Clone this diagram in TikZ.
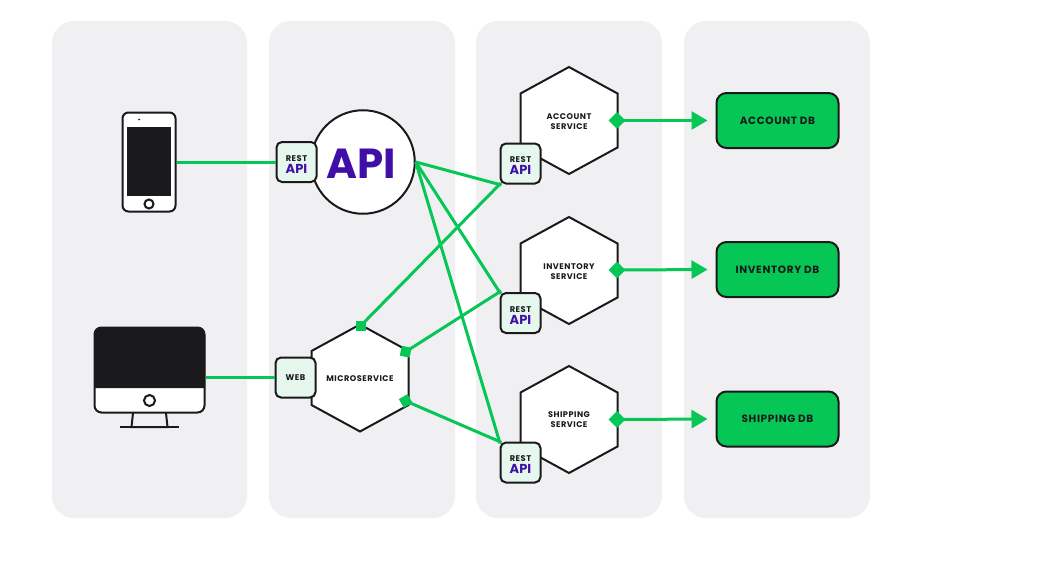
\documentclass[tikz,border=0pt]{standalone}
\usepackage{fontspec}
\setmainfont{Poppins}
\newfontfamily\tagfont[LetterSpace=6]{Poppins}
\usetikzlibrary{arrows.meta,shapes.geometric}
\definecolor{panelgrey}{HTML}{F0F0F3}
\definecolor{inkblack}{HTML}{1A1A1C}
\definecolor{linkgreen}{HTML}{06C655}
\definecolor{tagmint}{HTML}{E6F7EE}
\definecolor{apiviolet}{HTML}{3F0FA8}
\tikzset{
   panel/.style={fill=panelgrey, rounded corners=22pt, minimum height=497pt, inner sep=0pt},
   outlined/.style={draw=inkblack, line width=2pt},
   tagbox/.style={outlined, fill=tagmint, rounded corners=5.5pt, minimum width=40pt, minimum height=40pt, inner sep=0pt, align=center, font=\tagfont\bfseries\fontsize{8.3}{12}\selectfont, text=inkblack},
   dbbox/.style={outlined, fill=linkgreen, rounded corners=10pt, minimum width=122pt, minimum height=55pt, inner sep=0pt, font=\tagfont\bfseries\fontsize{10.5}{12}\selectfont, text=inkblack},
   hexlabel/.style={inner sep=0pt, align=center, font=\tagfont\bfseries\fontsize{8.2}{10}\selectfont, text=inkblack},
   hexline/.style={outlined, fill=white, line join=miter},
   link/.style={draw=linkgreen, line width=3pt},
   cornerlink/.style={link, shorten >=-2pt},
   dblink/.style={link, -{Triangle[length=16pt,width=18pt]}, shorten >=8pt},
   joint/.style={fill=linkgreen, minimum size=10pt, inner sep=0pt},
   tip/.style={shape=diamond, fill=linkgreen, minimum size=17pt, inner sep=0pt},
}
\newcommand{\apiword}{{\color{apiviolet}\fontspec{Poppins}[LetterSpace=0]\bfseries\fontsize{13}{13}\selectfont API}}
\newcommand{\resttag}{\rule{0pt}{10pt}REST\\\apiword}
\newcommand{\hexagon}[5]{
   \draw [hexline] (#2,#3) ++(0,-53.5) -- ++(48.5,26.5) -- ++(0,54) -- ++(-48.5,26.5) -- ++(-48.5,-26.5) -- ++(0,-54) -- cycle;
   \node (#1) at (#2,#4) [hexlabel] {#5};
}
\begin{document}
\begin{tikzpicture}[x=1pt,y=-1pt]
   \useasboundingbox (0,0) rectangle (1045,570);

   \node (PanelClients) at (149.5,269.5) [panel, minimum width=195pt] {};
   \node (PanelGateway) at (362,269.5) [panel, minimum width=186pt] {};
   \node (PanelServices) at (569,269.5) [panel, minimum width=186pt] {};
   \node (PanelData) at (777,269.5) [panel, minimum width=186pt] {};

   % phone
   \node (Phone) at (149,162) [outlined, fill=white, rounded corners=6pt, minimum width=53pt, minimum height=99pt] {};
   \node (PhoneScreen) at (149,161.5) [fill=inkblack, minimum width=44pt, minimum height=69pt, inner sep=0pt] {};
   \node (PhoneCamera) at (139,119.5) [circle, fill=inkblack, minimum size=2pt, inner sep=0pt] {};
   \node (PhoneButton) at (149,204) [circle, outlined, minimum size=9pt, inner sep=0pt] {};

   % desktop
   \draw [outlined] (133,413) -- (131.5,427) -- (167.5,427) -- (166,413);
   \node (MonitorFoot) at (149.5,427) [fill=inkblack, minimum width=59pt, minimum height=2pt, inner sep=0pt] {};
   \node (Monitor) at (149.5,370) [outlined, fill=white, rounded corners=7pt, minimum width=110pt, minimum height=85pt] {};
   \fill [inkblack] (94,388) [rounded corners=7pt] -- (94,327) -- (205,327) [sharp corners] -- (205,388) -- cycle;
   \node (MonitorButton) at (149.5,400.5) [circle, outlined, minimum size=11pt, inner sep=0pt] {};

   % gateway column
   \node (ApiCircle) at (363,162) [circle, outlined, fill=white, minimum size=103.5pt, inner sep=0pt, text=apiviolet, font=\bfseries\fontsize{42}{42}\selectfont] {\rule{0pt}{33pt}API\kern 4pt};
   \hexagon{Microservice}{360}{378}{378.5}{MICROSERVICE}
   \node (RestGateway) at (296.5,162) [tagbox] {\resttag};
   \node (WebGateway) at (295.5,377.5) [tagbox] {WEB};

   % service column
   \hexagon{AccountService}{569}{120.5}{122}{ACCOUNT\\SERVICE}
   \hexagon{InventoryService}{569}{270.5}{272}{INVENTORY\\SERVICE}
   \hexagon{ShippingService}{569}{419.5}{419.5}{SHIPPING\\SERVICE}

   % data column
   \node (AccountDb) at (777.5,120.5) [dbbox] {ACCOUNT DB};
   \node (InventoryDb) at (777.5,269.5) [dbbox] {INVENTORY DB};
   \node (ShippingDb) at (777.5,419) [dbbox] {SHIPPING DB};

   \node (RestAccount) at (520.5,163.5) [tagbox] {\resttag};
   \node (RestInventory) at (520.5,313) [tagbox] {\resttag};
   \node (RestShipping) at (520.5,462.5) [tagbox] {\resttag};

   \node (JointTop) at (360.5,326) [joint] {};
   \node (JointUpper) at (405.7,351.7) [joint, rotate=-12] {};
   \node (JointLower) at (405.7,401) [joint, rotate=30] {};
   \node (TipAccount) at (617,120.5) [tip] {};
   \node (TipInventory) at (617,270) [tip] {};
   \node (TipShipping) at (617,419.5) [tip] {};

   \draw [link] (Phone.east) -- (RestGateway.west);
   \draw [link] (Monitor.east |- WebGateway.west) -- (WebGateway.west);

   \draw [cornerlink] (ApiCircle.east) -- (RestAccount.south west);
   \draw [cornerlink] (ApiCircle.east) -- (RestInventory.north west);
   \draw [cornerlink] (ApiCircle.east) -- (RestShipping.north west);

   \draw [cornerlink] (JointTop.center) -- (RestAccount.south west);
   \draw [cornerlink] (JointUpper.center) -- (RestInventory.north west);
   \draw [cornerlink] (JointLower.center) -- (RestShipping.north west);

   \draw [dblink] (TipAccount.center) -- (AccountDb.west);
   \draw [dblink] (TipInventory.center) -- (InventoryDb.west);
   \draw [dblink] (TipShipping.center) -- (ShippingDb.west);

\end{tikzpicture}
\end{document}
